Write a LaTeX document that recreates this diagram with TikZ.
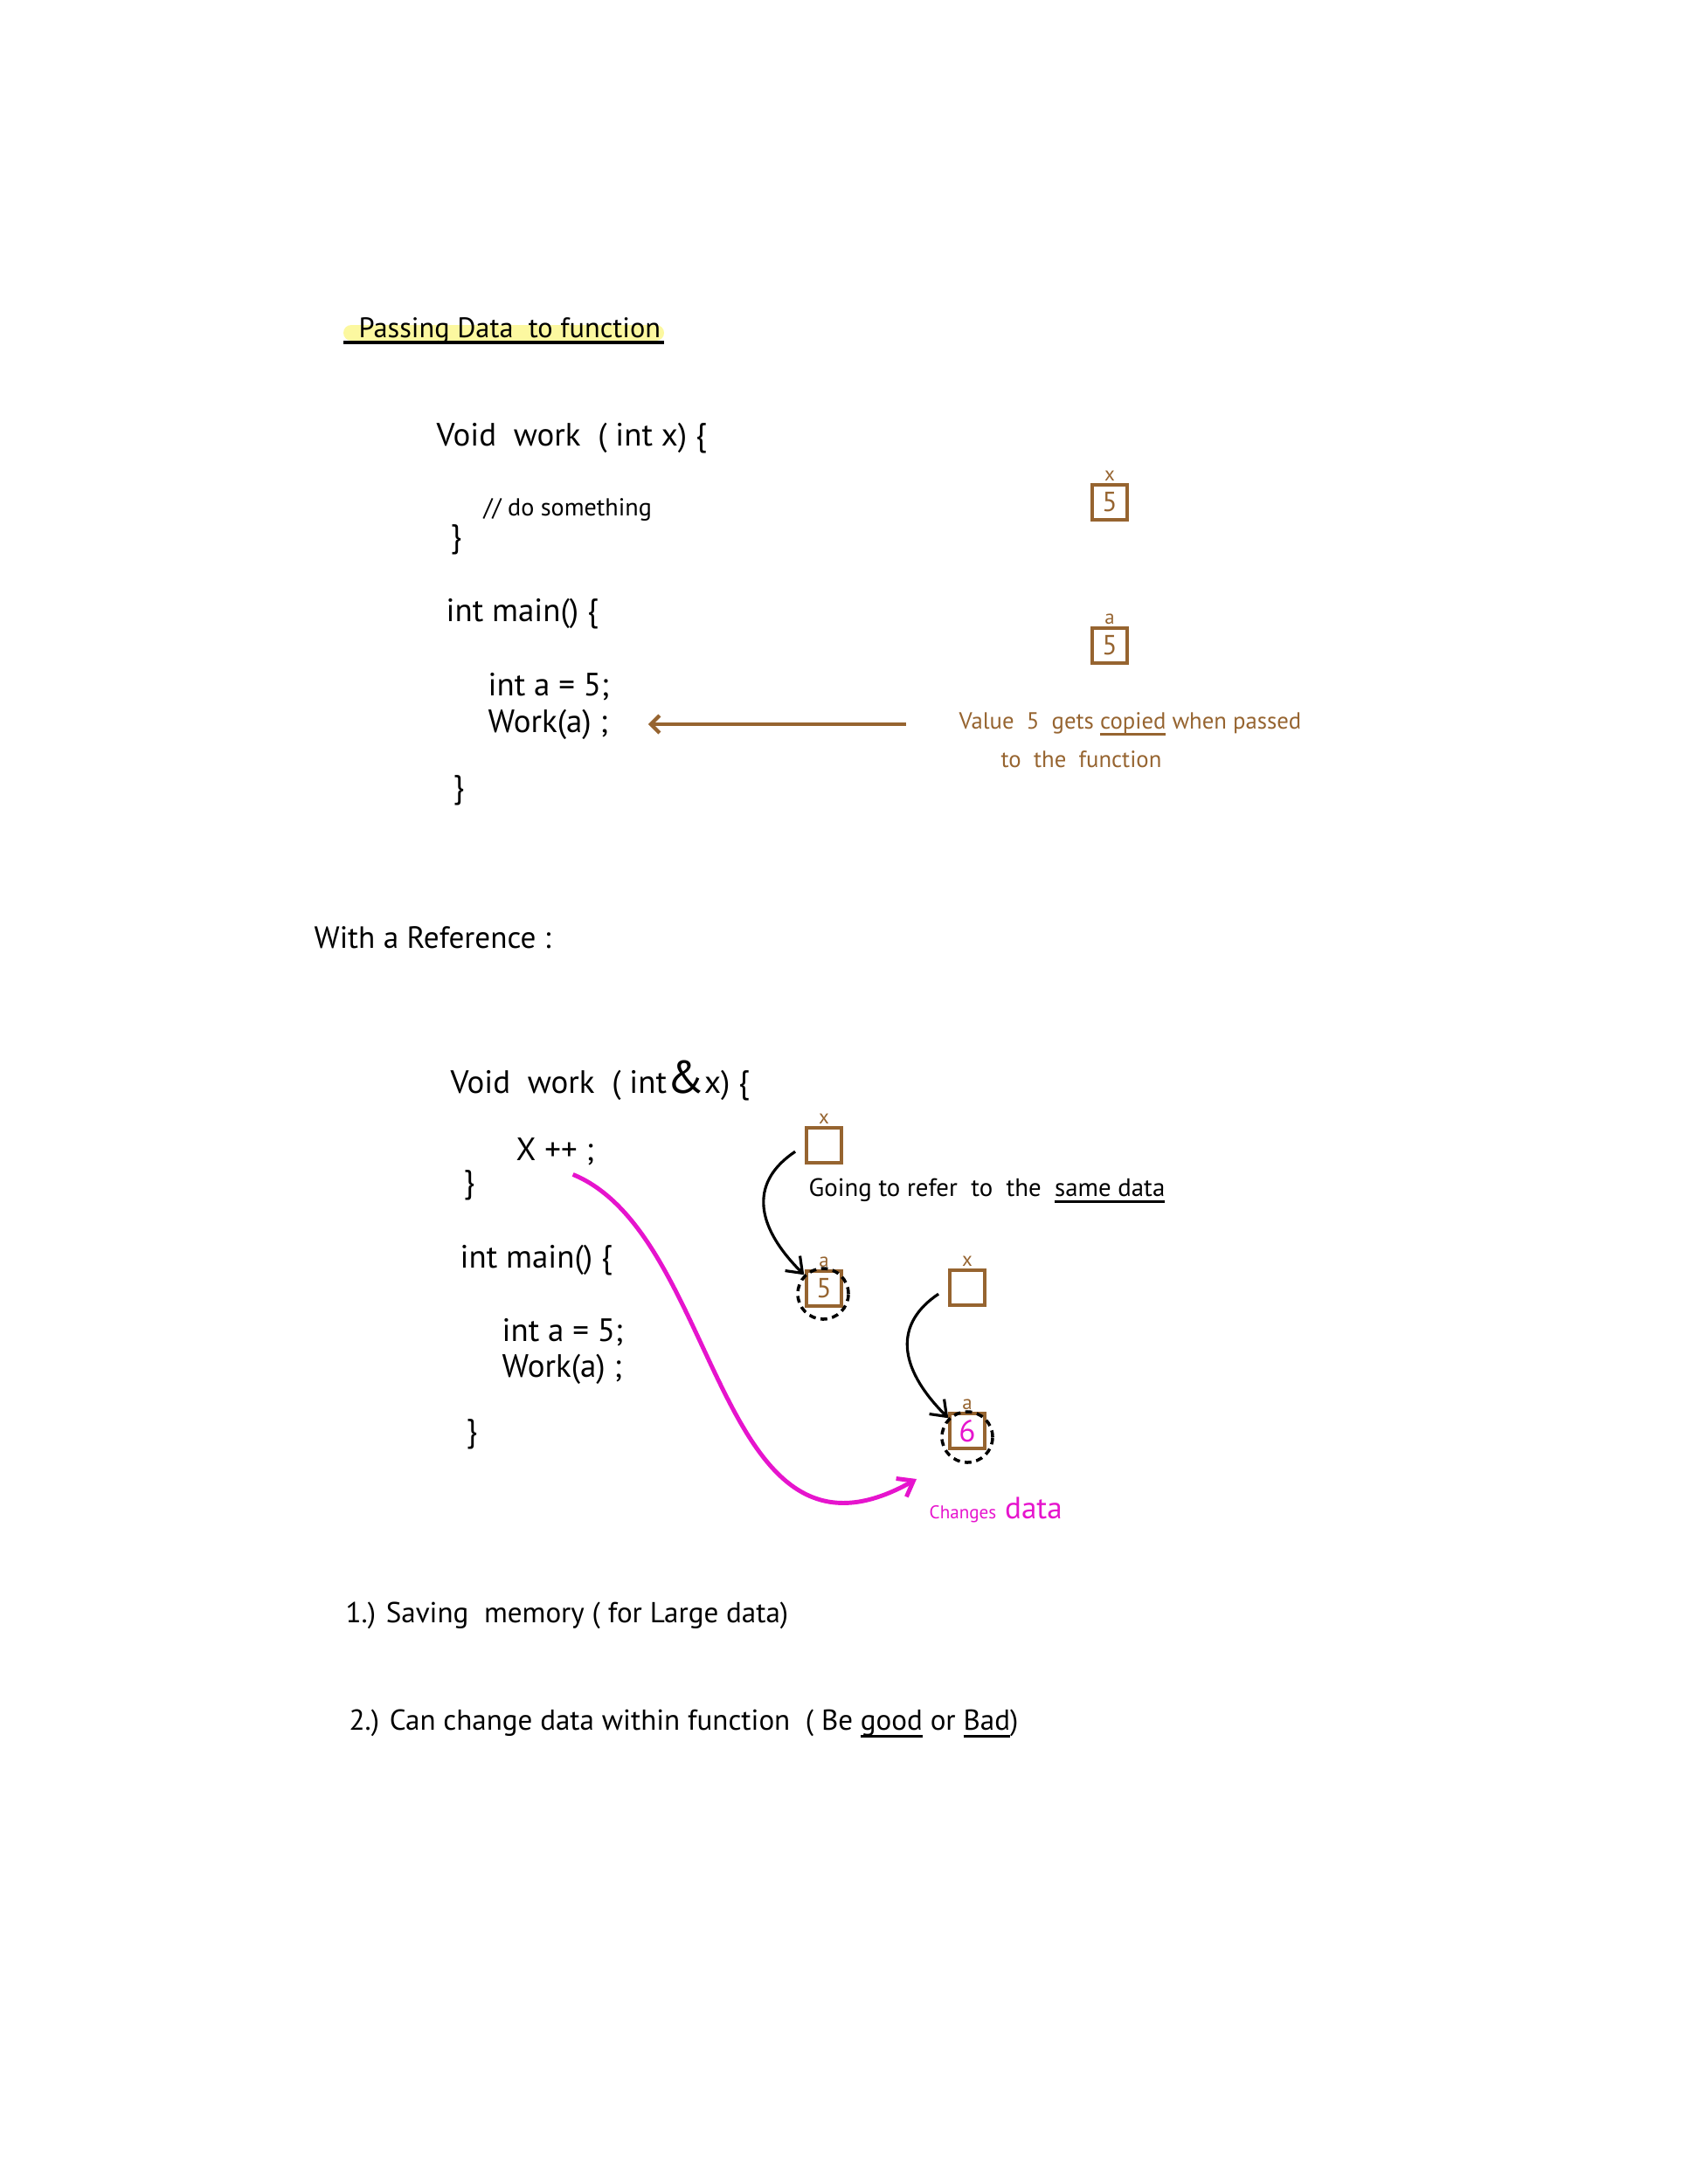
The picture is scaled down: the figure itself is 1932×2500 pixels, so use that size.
\documentclass[tikz,border=0pt]{standalone}
\usepackage{fontspec}
\setmainfont{PT Sans}
\usetikzlibrary{arrows.meta,positioning}
\definecolor{inkbrown}{RGB}{150,100,48}
\definecolor{inkpink}{RGB}{230,20,205}
\definecolor{hilite}{RGB}{252,248,160}
\newcommand{\thickul}[1]{\setbox0=\hbox{#1}\rlap{\rule[-0.55ex]{\wd0}{0.9pt}}\box0\relax}

\begin{document}
\begin{tikzpicture}[
        x=0.01cm, y=-0.01cm,
        code/.style={anchor=west, inner sep=0pt, font=\fontsize{10.5}{12}\selectfont},
        codesmall/.style={code, font=\fontsize{8}{10}\selectfont},
        notetext/.style={code, text=inkbrown, font=\fontsize{7.6}{10}\selectfont},
        cellbox/.style={draw=inkbrown, line width=1.2pt, minimum size=0.4cm, inner sep=0pt,
            text=inkbrown, font=\fontsize{9}{9}\selectfont},
        boxtag/.style={text=inkbrown, font=\fontsize{6.5}{7}\selectfont, inner sep=0.5pt},
        dashring/.style={circle, draw, line width=1pt, dash pattern=on 2.2pt off 1.6pt,
            minimum size=0.58cm, inner sep=0pt},
        refarrow/.style={-{Straight Barb[length=1.6mm,width=2.4mm]}, line width=0.9pt},
    ]
    \useasboundingbox (0,0) rectangle (1932,2500);

    % title
    \fill[hilite, rounded corners=0.09cm] (393,372) rectangle (760,390);
    \node[code, font=\fontsize{9.2}{11}\selectfont] (title) at (410,378) {Passing Data\ \ to function};
    \draw[line width=1.3pt] (393,392) -- (760,392);

    % pass by value
    \node[code] (codeA1) at (499,502) {Void\ \ work\ \ ( int x) \{};
    \node[codesmall] (codeA2) at (553,583) {// do something};
    \node[code] (codeA3) at (515,618) {\}};
    \node[code] (codeA4) at (510,703) {int main() \{};
    \node[code] (codeA5) at (558,786) {int a = 5;};
    \node[code] (codeA6) at (558,829) {Work(a) ;};
    \node[code] (codeA7) at (518,905) {\}};

    \node[cellbox, label={[boxtag]above:x}] (boxX1) at (1270,575) {5};
    \node[cellbox, label={[boxtag]above:a}] (boxA1) at (1270,739) {5};

    \node[notetext] (noteA) at (1097,829) {Value\ \ 5\ \ gets \thickul{copied} when passed};
    \node[notetext] (noteB) at (1145,869) {to\ \ the\ \ function};
    \draw[inkbrown, line width=1.2pt, -{Straight Barb[length=1mm,width=2mm]},
        shorten <=0.6cm, shorten >=0.45cm] (noteA.west) -- (codeA6.east);

    \node[code, font=\fontsize{10}{12}\selectfont] (refhead) at (359,1073) {With a Reference :};

    % pass by reference
    \node[code] (codeB1) at (515,1237) {Void\ \ work\ \ ( int{\fontsize{15}{15}\selectfont\&}x) \{};
    \node[code] (codeB2) at (590,1318) {X ++ ;};
    \node[code] (codeB3) at (530,1357) {\}};
    \node[code] (codeB4) at (526,1443) {int main() \{};
    \node[code] (codeB5) at (574,1525) {int a = 5;};
    \node[code] (codeB6) at (574,1567) {Work(a) ;};
    \node[code] (codeB7) at (533,1642) {\}};

    \node[cellbox, label={[boxtag]above:x}] (boxX2) at (943,1311) {};
    \node[cellbox, label={[boxtag]above:a}] (boxA2) at (943,1475) {5};
    \node[dashring] (ringA2) at (942,1481) {};
    \node[code, font=\fontsize{8.2}{10}\selectfont] (sameref) at (925,1363) {Going to refer\ \ to\ \ the\ \ \thickul{same data}};

    \node[cellbox, label={[boxtag]above:x}] (boxX3) at (1107,1474) {};
    \node[cellbox, label={[boxtag]above:a}, text=inkpink, font=\fontsize{10}{10}\selectfont] (boxA3) at (1107,1638) {6};
    \node[dashring] (ringA3) at (1107,1645) {};

    \draw[refarrow, shorten <=0.13cm] (boxX2.west) .. controls +(-60,40) and +(-60,-60) .. (ringA2.north west);
    \draw[refarrow, shorten <=0.13cm] (boxX3.west) .. controls +(-60,40) and +(-60,-60) .. (ringA3.north west);

    \node[code, anchor=base west, text=inkpink] (changes) at (1063,1738)
        {{\fontsize{6}{7}\selectfont Changes} {\fontsize{10}{12}\selectfont data}};
    \coordinate (pinkend) at (1049,1693);
    \draw[inkpink, line width=1.4pt, -{Straight Barb[length=1.6mm,width=2.4mm]}]
        ([xshift=-0.25cm,yshift=-0.1cm]codeB2.south east) .. controls +(170,70) and +(-230,130) .. (pinkend);

    % summary
    \node[code, font=\fontsize{9.4}{12}\selectfont] (itemA) at (395,1849) {1.) Saving\ \ memory ( for Large data)};
    \node[code, font=\fontsize{9.4}{12}\selectfont] (itemB) at (399,1973)
        {2.) Can change data within function\ \ ( Be \thickul{good} or \thickul{Bad})};
\end{tikzpicture}
\end{document}
